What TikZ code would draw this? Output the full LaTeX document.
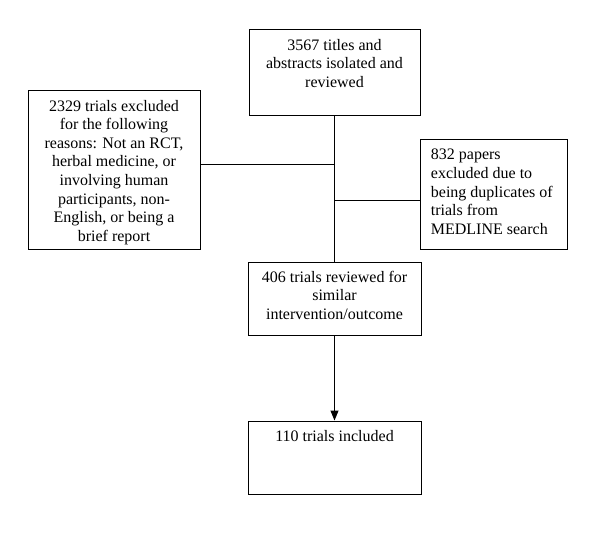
\documentclass[tikz,border=0pt]{standalone}
\usepackage{fontspec}
\setmainfont{Liberation Serif}
\usetikzlibrary{arrows.meta}
\begin{document}
\begin{tikzpicture}[x=1pt,y=-1pt,
  box/.style={draw, line width=1pt, inner sep=0pt, minimum width=#1},
  txt/.style={inner sep=0pt, font=\fontsize{16}{18.6}\selectfont},
  conn/.style={line width=1pt}]
\useasboundingbox (0,0) rectangle (600,536);
% boxes
\node[box=171pt, minimum height=86pt] (top) at (334.5,72) {};
\node[box=172pt, minimum height=159pt] (left) at (114,169.5) {};
\node[box=147pt, minimum height=110pt] (right) at (493.5,194) {};
\node[box=173pt, minimum height=73pt] (mid) at (334.5,298.5) {};
\node[box=173pt, minimum height=73pt] (bot) at (334.5,457.5) {};
% texts
\node[txt, align=center, anchor=north] (ttop) at (334.5,39) {3567 titles and\\abstracts isolated and\\reviewed};
\node[txt, align=center, anchor=north] (tleft) at (114,99.7) {2329 trials excluded\\for the following\\reasons: Not an RCT,\\herbal medicine, or\\involving human\\participants, non-\\English, or being a\\brief report};
\node[txt, align=left, anchor=north west] (tright) at (430.7,149) {832 papers\\excluded due to\\being duplicates of\\trials from\\MEDLINE search};
\node[txt, align=center, anchor=north] (tmid) at (334.5,270.7) {406 trials reviewed for\\similar\\intervention/outcome};
\node[txt, align=center, anchor=north] (tbot) at (334.5,430) {110 trials included};
% connectors
\coordinate (j1) at (334.5,164);
\coordinate (j2) at (334.5,200);
\draw[conn] (top.south) -- (mid.north);
\draw[conn] (left.east |- j1) -- (j1);
\draw[conn] (j2) -- (right.west |- j2);
\draw[conn, -{Triangle[length=10pt,width=8pt]}] (mid.south) -- (bot.north);
\end{tikzpicture}
\end{document}
